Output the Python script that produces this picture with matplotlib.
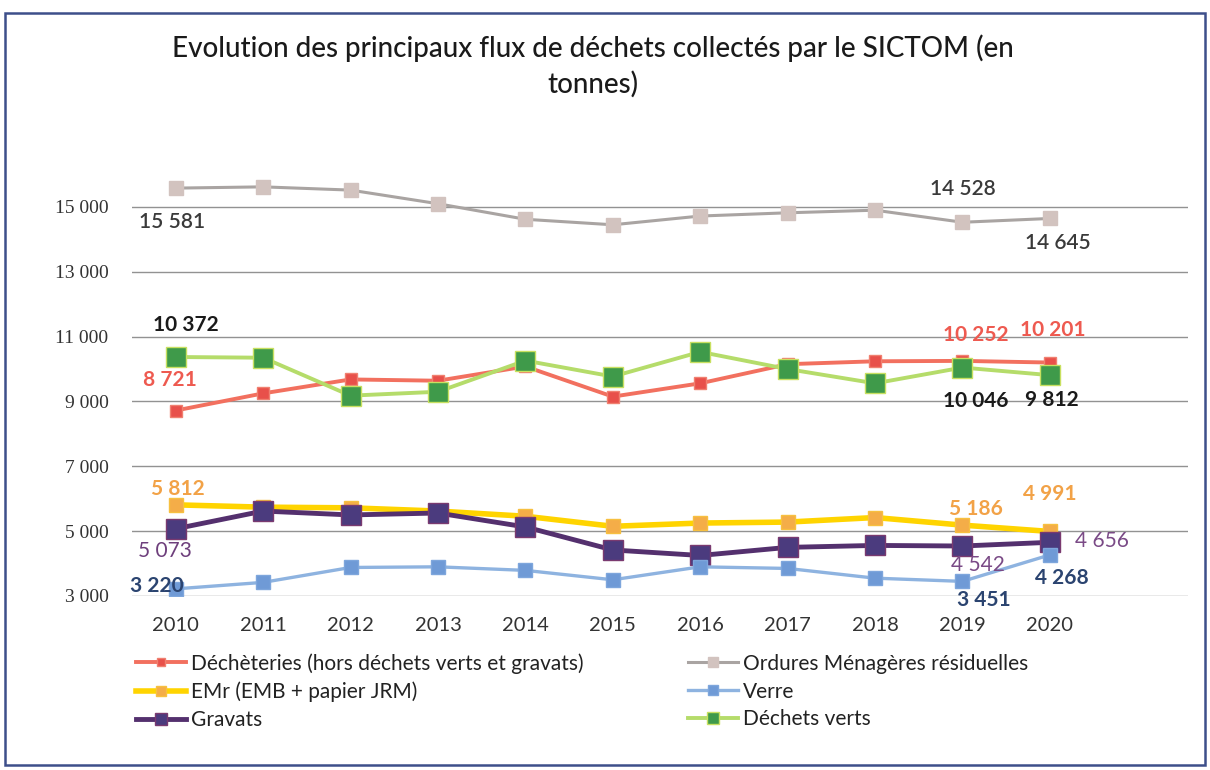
import matplotlib.pyplot as plt
from matplotlib.patches import Rectangle

# ---------------- donnees ----------------
years = list(range(2010, 2021))

decheteries = [8721, 9250, 9680, 9640, 10080, 9150, 9560, 10150, 10240, 10252, 10201]
ordures = [15581, 15620, 15520, 15100, 14620, 14450, 14720, 14820, 14900, 14528, 14645]
emr = [5812, 5740, 5720, 5620, 5460, 5150, 5250, 5280, 5420, 5186, 4991]
verre = [3220, 3420, 3880, 3900, 3790, 3500, 3900, 3850, 3550, 3451, 4268]
gravats = [5073, 5620, 5500, 5560, 5130, 4420, 4250, 4500, 4560, 4542, 4656]
dechets_verts = [10372, 10350, 9180, 9300, 10260, 9770, 10530, 10000, 9560, 10046, 9812]

y_ticks = [3000, 5000, 7000, 9000, 11000, 13000, 15000]
y_tick_labels = ['3 000', '5 000', '7 000', '9 000', '11 000', '13 000', '15 000']

FONT = 'Lato'

fig = plt.figure(figsize=(12.1, 7.7), dpi=100)
ax = fig.add_axes([132 / 1210, 1 - 596 / 770, (1188 - 132) / 1210, (596 - 148.6) / 770])

# series : (valeurs, label, couleur ligne, largeur, couleur marqueur, taille, bord)
series = [
    (decheteries, 'Déchèteries (hors déchets verts et gravats)', '#f2705f', 2.8, '#e8504a', 9, '#f08070'),
    (emr, 'EMr (EMB + papier JRM)', '#ffd400', 4.0, '#f4ad48', 10, '#f7c040'),
    (gravats, 'Gravats', '#54306e', 3.5, '#4b3b7e', 14, '#7a3a70'),
    (ordures, 'Ordures Ménagères résiduelles', '#a9a4a2', 2.2, '#d2c3bf', 10, '#d2c3bf'),
    (verre, 'Verre', '#8eb3e0', 2.4, '#6f9ad6', 10, '#7ea6dc'),
    (dechets_verts, 'Déchets verts', '#b5dc6a', 2.8, '#3f9a4a', 14, '#c8e060'),
]

handles = []
for vals, lab, lc, lw, mc, ms, mec in series:
    h, = ax.plot(years, vals, color=lc, linewidth=lw, marker='s', markersize=ms,
                 markerfacecolor=mc, markeredgecolor=mec, markeredgewidth=1.0,
                 label=lab, zorder=3)
    handles.append(h)

ax.set_xlim(2009.5, 2021.58)
ax.set_ylim(3000, 16800)
ax.set_yticks(y_ticks)
ax.set_yticklabels(y_tick_labels, fontfamily='Liberation Serif', fontsize=14, color='#333333')
ax.set_xticks(years)
ax.set_xticklabels([str(y) for y in years], fontfamily=FONT, fontsize=14.5, color='#333333')
ax.tick_params(axis='both', length=0)
ax.tick_params(axis='x', pad=15)
ax.tick_params(axis='y', pad=17)
ax.grid(axis='y', color='#777777', linewidth=1.0, alpha=0.8)
ax.set_axisbelow(True)
for s in ax.spines.values():
    s.set_visible(False)

# etiquettes de valeurs : (serie, index annee, dx, dy, couleur, gras)
labels = [
    (ordures, 0, -4, -34, '#3a3a3a', 'semibold'),
    (ordures, 9, 0, 33, '#3a3a3a', 'semibold'),
    (ordures, 10, 8, -25, '#3a3a3a', 'semibold'),
    (dechets_verts, 0, 10, 32, '#1a1a1a', 'bold'),
    (decheteries, 0, -6, 31, '#ee5a50', 'bold'),
    (decheteries, 9, 13, 26, '#ee5a50', 'bold'),
    (decheteries, 10, 3, 33, '#ee5a50', 'bold'),
    (dechets_verts, 9, 13, -33, '#1a1a1a', 'bold'),
    (dechets_verts, 10, 2, -25, '#1a1a1a', 'bold'),
    (emr, 0, 2, 16, '#f2a247', 'bold'),
    (emr, 9, 13, 16, '#f2a247', 'bold'),
    (emr, 10, 0, 37, '#f2a247', 'bold'),
    (gravats, 0, -11, -22, '#6e3f7c', 'normal'),
    (gravats, 9, 15, -19, '#7a4a86', 'normal'),
    (gravats, 10, 52, 1, '#7a4a86', 'normal'),
    (verre, 0, -19, 3, '#2b4470', 'bold'),
    (verre, 9, 21, -19, '#2b4470', 'bold'),
    (verre, 10, 12, -23, '#2b4470', 'bold'),
]
for vals, i, dx, dy, col, w in labels:
    txt = f'{vals[i]:,}'.replace(',', ' ')
    ax.annotate(txt, xy=(years[i], vals[i]), xytext=(dx, dy), textcoords='offset pixels',
                ha='center', va='center', fontsize=15, fontfamily=FONT,
                fontweight=w, color=col, zorder=5)

fig.text(0.49, 1 - 48 / 770, 'Evolution des principaux flux de déchets collectés par le SICTOM (en',
         ha='center', va='center', fontsize=20, fontfamily=FONT, fontweight='medium',
         color='#1a1a1a')
fig.text(0.49, 1 - 84 / 770, 'tonnes)', ha='center', va='center', fontsize=20,
         fontfamily=FONT, fontweight='medium', color='#1a1a1a')

leg = fig.legend(handles=handles, loc='upper left', bbox_to_anchor=(136 / 1210, 1 - 653 / 770),
                 ncol=2, frameon=False, prop={'family': FONT, 'size': 15},
                 handlelength=2.4, handletextpad=0.25, labelspacing=0.38,
                 columnspacing=5.0, markerscale=0.65, borderpad=0, borderaxespad=0)
for t in leg.get_texts():
    t.set_color('#222222')

fig.patches.append(Rectangle((5 / 1210, 1 - 765 / 770), 1200 / 1210, 752 / 770,
                             transform=fig.transFigure, fill=False,
                             edgecolor='#3d4f8a', linewidth=1.8))

fig.savefig('out.png', dpi=100)
